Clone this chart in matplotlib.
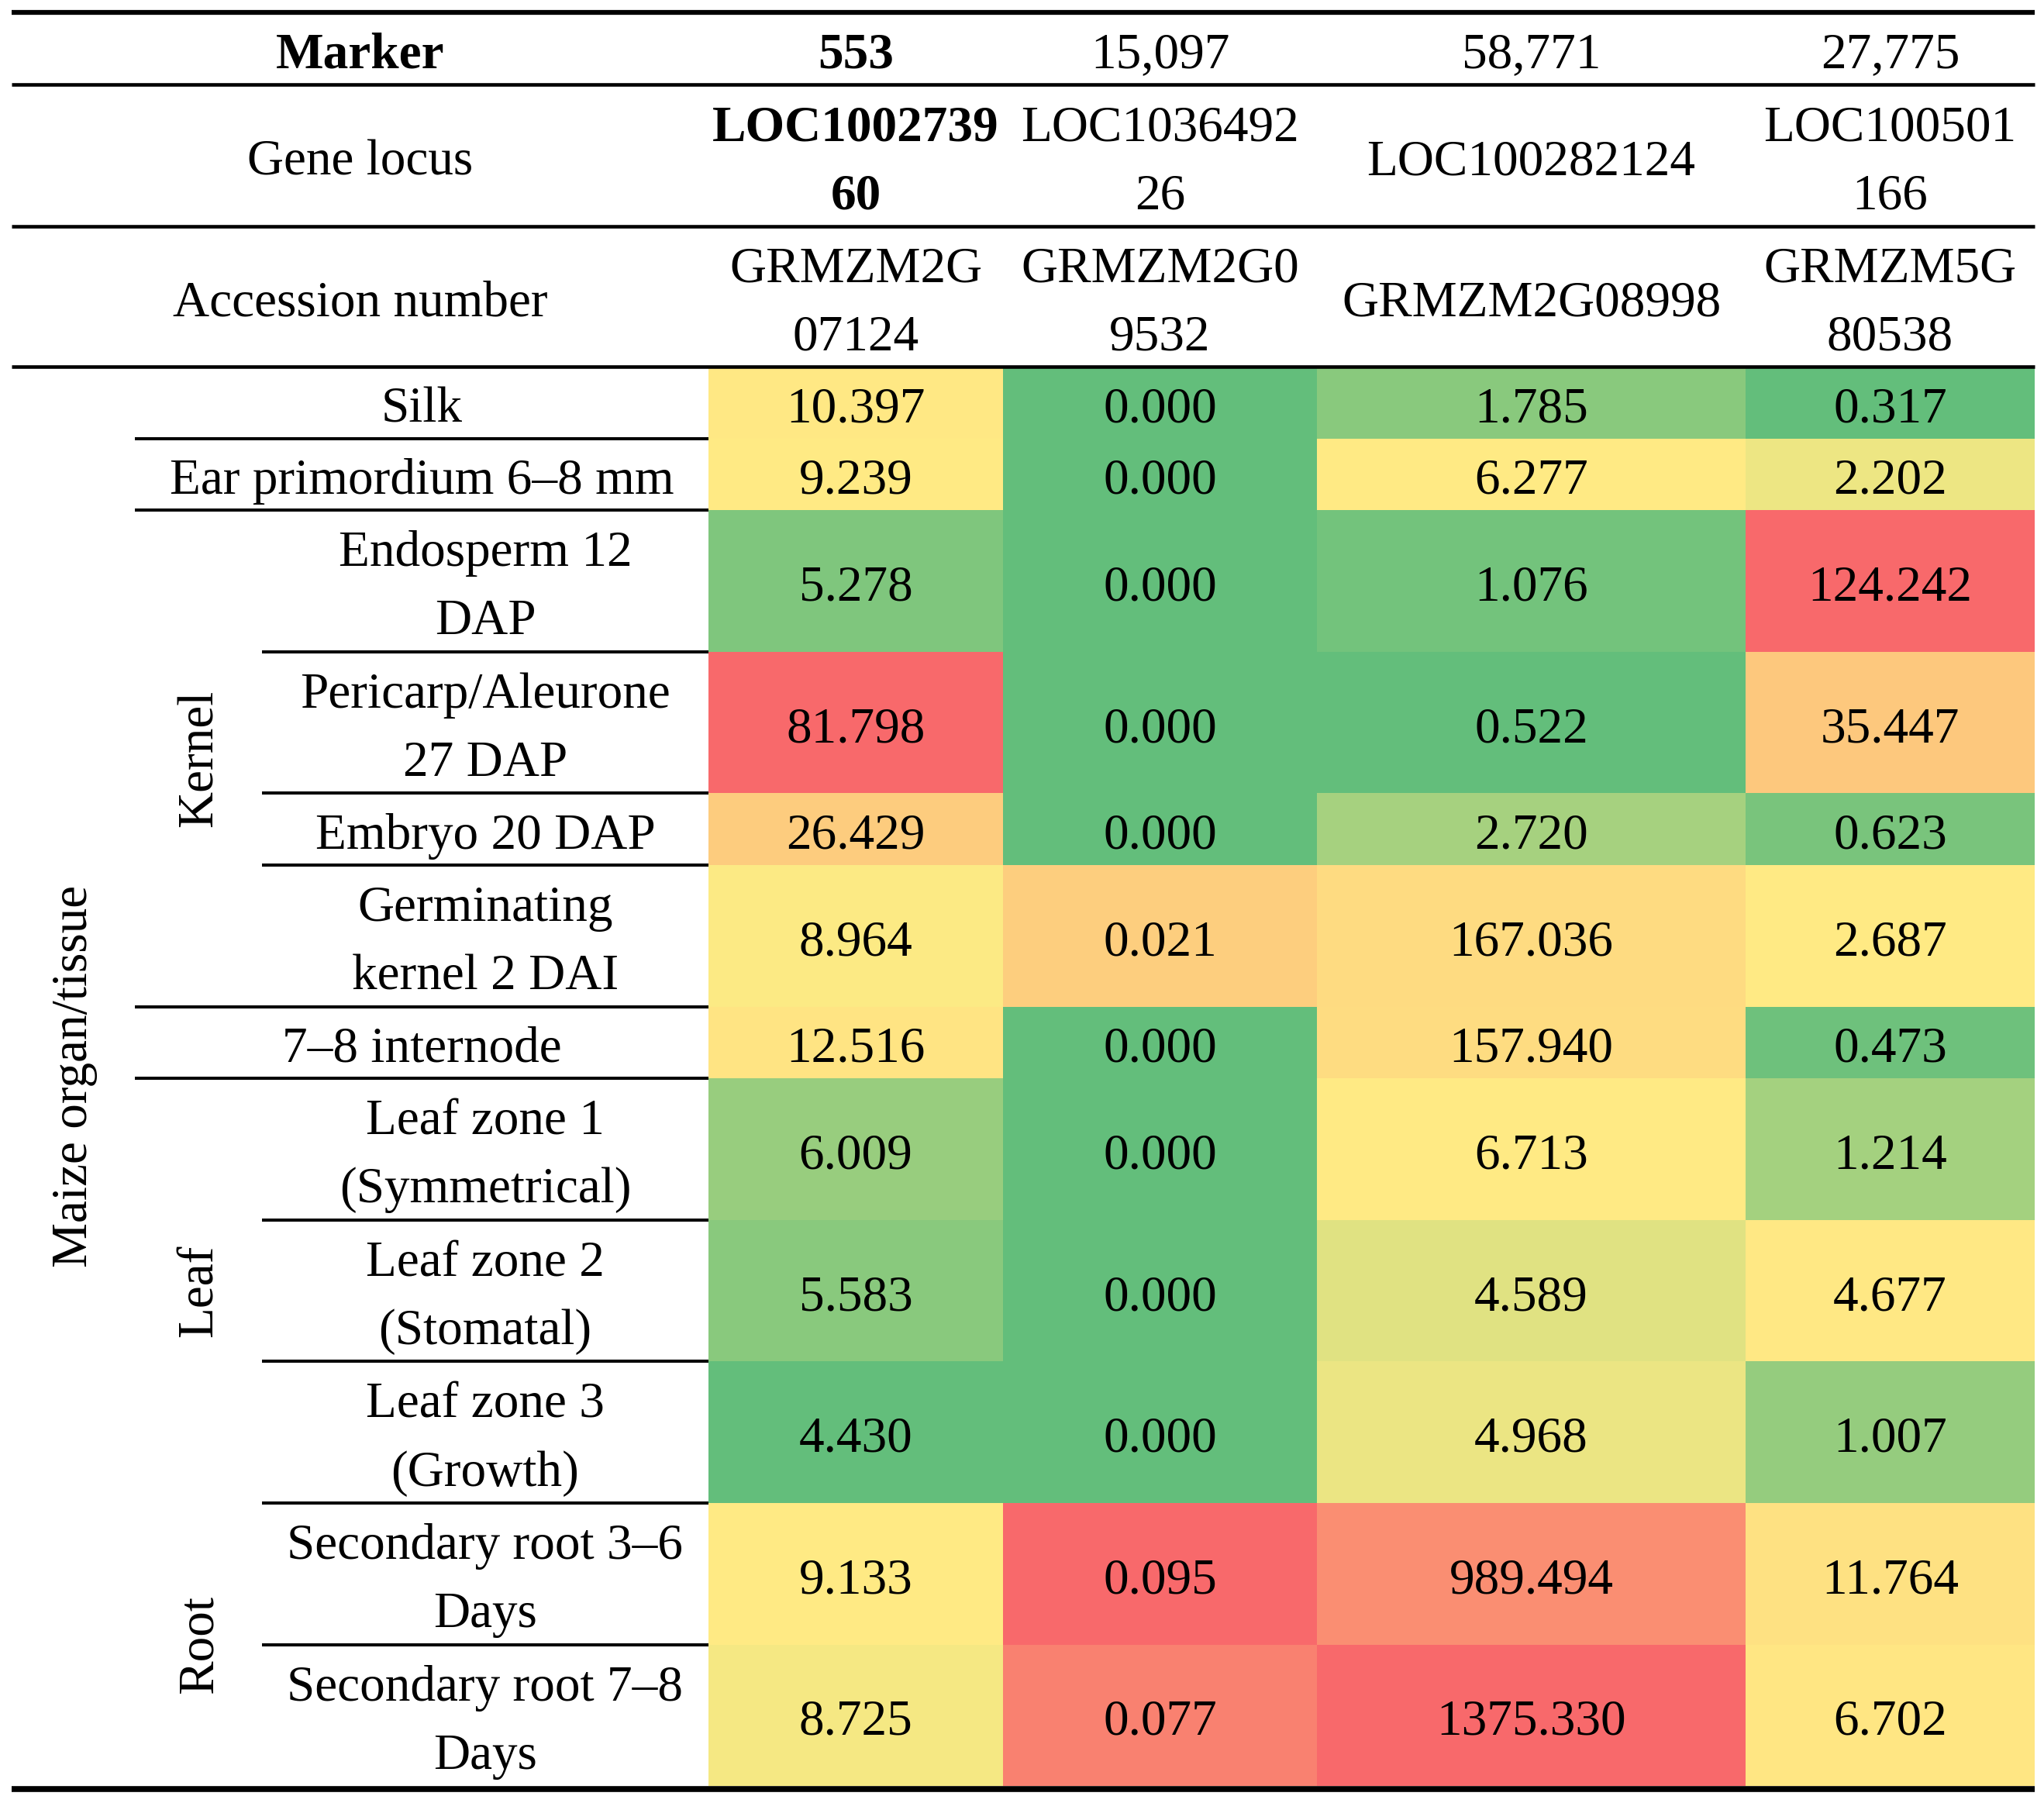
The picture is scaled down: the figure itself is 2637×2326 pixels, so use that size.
import numpy as np
import matplotlib
matplotlib.use("Agg")
import matplotlib.pyplot as plt
from matplotlib.colors import LinearSegmentedColormap
from matplotlib.patches import Rectangle

# Table content
markers = ["553", "15,097", "58,771", "27,775"]
gene_locus = ["LOC1002739\n60", "LOC1036492\n26", "LOC100282124", "LOC100501\n166"]
accessions = ["GRMZM2G\n07124", "GRMZM2G0\n9532", "GRMZM2G08998", "GRMZM5G\n80538"]

tissues = ["Silk", "Ear primordium 6\u20138 mm", "Endosperm 12\nDAP",
           "Pericarp/Aleurone\n27 DAP", "Embryo 20 DAP", "Germinating\nkernel 2 DAI",
           "7\u20138 internode", "Leaf zone 1\n(Symmetrical)", "Leaf zone 2\n(Stomatal)",
           "Leaf zone 3\n(Growth)", "Secondary root 3\u20136\nDays",
           "Secondary root 7\u20138\nDays"]
groups = [None, None, "Kernel", "Kernel", "Kernel", "Kernel", None,
          "Leaf", "Leaf", "Leaf", "Root", "Root"]
# level of the rule under each row: 1 = from group column, 2 = from tissue column
rule_level = [1, 1, 2, 2, 2, 1, 1, 2, 2, 2, 2]

col553 = [10.397, 9.239, 5.278, 81.798, 26.429, 8.964, 12.516, 6.009, 5.583, 4.430, 9.133, 8.725]
col15097 = [0.000, 0.000, 0.000, 0.000, 0.000, 0.021, 0.000, 0.000, 0.000, 0.000, 0.095, 0.077]
col58771 = [1.785, 6.277, 1.076, 0.522, 2.720, 167.036, 157.940, 6.713, 4.589, 4.968, 989.494, 1375.330]
col27775 = [0.317, 2.202, 124.242, 35.447, 0.623, 2.687, 0.473, 1.214, 4.677, 1.007, 11.764, 6.702]
columns = [col553, col15097, col58771, col27775]

# Excel style 3-colour scale (min green, median yellow, max red), per column
cmap = LinearSegmentedColormap.from_list("excel3", ["#63BE7B", "#FFEB84", "#F8696B"])


def scale(vals):
    v = np.asarray(vals, dtype=float)
    lo, mid, hi = v.min(), np.median(v), v.max()
    t = np.zeros_like(v)
    below = v <= mid
    if mid > lo:
        t[below] = 0.5 * (v[below] - lo) / (mid - lo)
    t[~below] = 0.5 + 0.5 * (v[~below] - mid) / (hi - mid)
    return t


W, H = 2637, 2326
fig = plt.figure(figsize=(W / 100, H / 100), dpi=100)
ax = fig.add_axes([0, 0, 1, 1])
ax.set_xlim(0, W)
ax.set_ylim(H, 0)
ax.set_axis_off()

FONT = "Liberation Serif"
FS = 47

x_left, x_right = 15, 2625
x_group, x_tissue, x_data = 174, 338, 914
col_edges = [914, 1294, 1699, 2252, 2625]
col_mid = [(a + b) / 2 for a, b in zip(col_edges[:-1], col_edges[1:])]
line_gap = 88
single_h, double_h = 92.6, 182.6


def put(x, yc, s, bold=False):
    lines = s.split("\n")
    n = len(lines)
    for i, ln in enumerate(lines):
        yb = yc + 25 + (i - (n - 1) / 2) * line_gap
        ax.text(x, yb, ln, ha="center", va="baseline", fontsize=FS,
                family=FONT, fontweight="bold" if bold else "normal")


# header rows
head_edges = [15, 109, 292, 473]
head_rows = [("Marker", markers, [True, False, False, False]),
             ("Gene locus", gene_locus, [True, False, False, False]),
             ("Accession number", accessions, [False] * 4)]
for r, (lab, vals, bolds) in enumerate(head_rows):
    yc = (head_edges[r] + head_edges[r + 1]) / 2
    put((x_left + x_data) / 2, yc, lab, bold=(r == 0))
    for c, v in enumerate(vals):
        put(col_mid[c], yc, v, bold=bolds[c])

# data rows
colors = [cmap(scale(col)) for col in columns]
y = head_edges[-1]
row_tops = []
for i, tis in enumerate(tissues):
    h = double_h if "\n" in tis else single_h
    row_tops.append(y)
    yc = y + h / 2
    for c in range(4):
        ax.add_patch(Rectangle((col_edges[c], y), col_edges[c + 1] - col_edges[c], h,
                               facecolor=colors[c][i], edgecolor="none", zorder=0))
        put(col_mid[c], yc, f"{columns[c][i]:.3f}")
    xl = x_tissue if groups[i] else x_group
    put((xl + x_data) / 2, yc, tis)
    y += h
    if i < len(rule_level):
        xs = x_group if rule_level[i] == 1 else x_tissue
        ax.plot([xs, x_data], [y, y], color="black", lw=2.9, solid_capstyle="butt")
row_tops.append(y)
y_end = y

# group labels (rotated)
for g in ["Kernel", "Leaf", "Root"]:
    idx = [i for i, gg in enumerate(groups) if gg == g]
    yc = (row_tops[idx[0]] + row_tops[idx[-1] + 1]) / 2
    ax.text(258, yc, g, rotation=90, ha="center", va="center",
            fontsize=FS, family=FONT)
ax.text(96, (head_edges[-1] + y_end) / 2, "Maize organ/tissue", rotation=90,
        ha="center", va="center", fontsize=FS, family=FONT)

# horizontal rules
ax.plot([x_left, x_right], [15.5, 15.5], color="black", lw=4.5, solid_capstyle="butt")
for yy in head_edges[1:]:
    ax.plot([x_left, x_right], [yy, yy], color="black", lw=3.3, solid_capstyle="butt")
ax.plot([x_left, x_right], [y_end + 3.5, y_end + 3.5], color="black", lw=5.5,
        solid_capstyle="butt")

fig.savefig("out.png", dpi=100, facecolor="white")
